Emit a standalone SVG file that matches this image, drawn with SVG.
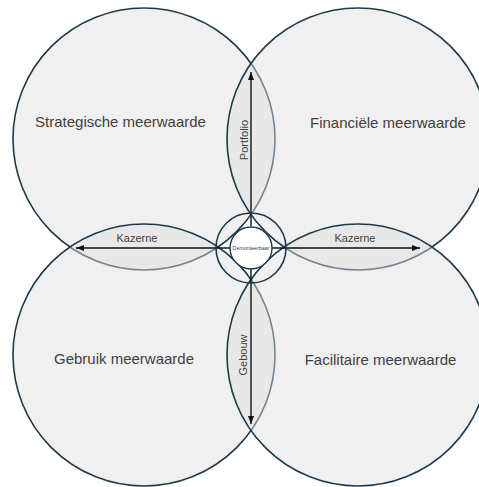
<svg xmlns="http://www.w3.org/2000/svg" width="479" height="487" viewBox="0 0 479 487">
  <defs>
    <marker id="arrow" viewBox="0 0 8 6" refX="8" refY="3" markerWidth="8" markerHeight="6" markerUnits="userSpaceOnUse" orient="auto">
      <path d="M0,0 L8,3 L0,6 Z" fill="#111111"/>
    </marker>
  </defs>
  <style>
    .area { fill: #dedede; fill-opacity: 0.45; stroke: #1e3a4c; stroke-width: 1.6; }
    .ring { fill: none; stroke: #1e3a4c; stroke-width: 1.6; }
    .hub { fill: #ffffff; stroke: #1e3a4c; stroke-width: 1.4; }
    .link { stroke: #111111; stroke-width: 1.4; fill: none; marker-end: url(#arrow); }
    .big { font-family: "Liberation Sans", Arial, sans-serif; font-size: 15px; fill: #404040; text-anchor: middle; }
    .small { font-family: "Liberation Sans", Arial, sans-serif; font-size: 11px; fill: #404040; text-anchor: middle; }
    .tiny { font-family: "Liberation Sans", Arial, sans-serif; font-size: 5.3px; fill: #404040; text-anchor: middle; }
  </style>
  <rect width="479" height="487" fill="#ffffff"/>

  <!-- four value areas, drawn in order so later fills soften earlier outlines -->
  <g id="strategische">
    <circle class="area" cx="144" cy="139" r="131"/>
    <text class="big" x="120.5" y="127">Strategische meerwaarde</text>
  </g>
  <g id="financiele">
    <circle class="area" cx="358" cy="139" r="131"/>
    <text class="big" x="388" y="128">Financiële meerwaarde</text>
  </g>
  <g id="gebruik">
    <circle class="area" cx="144" cy="355" r="131"/>
    <text class="big" x="124" y="364">Gebruik meerwaarde</text>
  </g>
  <g id="facilitaire">
    <circle class="area" cx="358" cy="355" r="131"/>
    <text class="big" x="380.5" y="365">Facilitaire meerwaarde</text>
  </g>

  <!-- arrows from the hub into each overlap -->
  <g id="connectors">
    <line class="link" x1="251" y1="226" x2="251" y2="72"/>
    <line class="link" x1="251" y1="268" x2="251" y2="424"/>
    <line class="link" x1="230" y1="248" x2="76" y2="248"/>
    <line class="link" x1="272" y1="248" x2="420" y2="248"/>
    <text class="small" transform="translate(248,140) rotate(-90)" x="0" y="0">Portfolio</text>
    <text class="small" transform="translate(247,355) rotate(-90)" x="0" y="0">Gebouw</text>
    <text class="small" x="137" y="242">Kazerne</text>
    <text class="small" x="355" y="242">Kazerne</text>
  </g>

  <!-- central hub -->
  <g id="demonteerbaar">
    <circle class="ring" cx="251" cy="248" r="35"/>
    <circle class="hub" cx="251" cy="248" r="21"/>
    <text class="tiny" x="251" y="250">Demonteerbaar</text>
  </g>
</svg>
